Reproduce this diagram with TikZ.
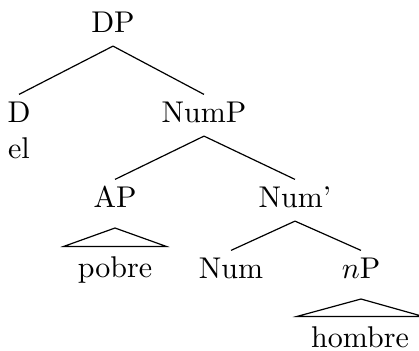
\documentclass[tikz,border=0pt]{standalone}
\usetikzlibrary{positioning}
\tikzset{
  cat/.style={inner sep=0pt,text height=9pt,text depth=4.5pt,anchor=base},
  roofword/.style={inner xsep=4.5pt,inner ysep=0pt,text height=10pt,text depth=0pt,anchor=base},
}
\begin{document}
\begin{tikzpicture}[x=.3333pt,y=-.3333pt]
\useasboundingbox (0,0) rectangle (419,350);
% categories
\node[cat] (DP) at (113,32) {DP};
\node[cat] (D) at (19,122) {D};
\node[cat] (el) at (19,158) {el};
\node[cat] (NumP) at (204,122) {NumP};
\node[cat] (AP) at (115,207) {AP};
\node[cat] (Numbar) at (295,207) {Num'};
\node[cat] (Num) at (231,278) {Num};
\node[cat] (nP) at (361,278) {$n$P};
% words under roofs
\node[roofword] (pobre) at (115,277) {pobre};
\node[roofword] (hombre) at (360,347) {hombre};
% branches
\draw (DP.south) -- (D.north);
\draw (DP.south) -- (NumP.north);
\draw (NumP.south) -- (AP.north);
\draw (NumP.south) -- (Numbar.north);
\draw (Numbar.south) -- (Num.north);
\draw (Numbar.south) -- (nP.north);
% roofs
\draw ([yshift=-2.3pt]AP.south) -- (pobre.north east) -- (pobre.north west) -- cycle;
\draw ([yshift=-2.3pt]nP.south) -- (hombre.north east) -- (hombre.north west) -- cycle;
\end{tikzpicture}
\end{document}
